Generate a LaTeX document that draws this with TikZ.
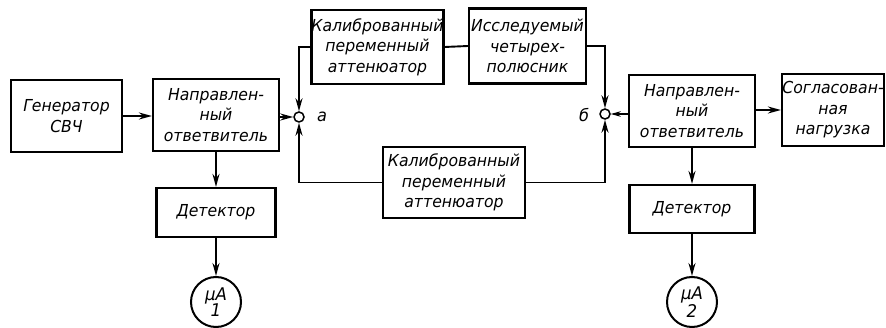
\documentclass[tikz,border=0pt]{standalone}
\usepackage{fontspec}
\setmainfont{DejaVu Sans}[FakeStretch=0.95]
\usetikzlibrary{arrows.meta,calc}
\begin{document}
\begin{tikzpicture}[x=1pt,y=-1pt,
  blk/.style={draw,line width=2.2pt,align=center,inner sep=0pt,
    font=\fontsize{16.5}{20.5}\selectfont\itshape},
  conn/.style={line width=1.9pt},
  arr/.style={conn,-{Stealth[length=13pt,width=7pt]}},
  jn/.style={circle,draw,line width=1.5pt,minimum size=10pt,inner sep=0pt},
  meter/.style={circle,draw,line width=2pt,minimum size=50pt,inner sep=0pt,
    align=center,font=\fontsize{17.5}{16.5}\selectfont\itshape},
  lbl/.style={font=\fontsize{17}{17}\selectfont\itshape,inner sep=0pt}
]
\useasboundingbox (0,0) rectangle (886,328);

\node[blk,minimum width=111pt,minimum height=72pt] (gen) at (66.5,116) {Генератор\\СВЧ};
\node[blk,minimum width=126pt,minimum height=72pt] (cpl1) at (216,115) {Направлен-\\ный\\ответвитель};
\node[blk,minimum width=119pt,minimum height=49pt] (det1) at (216,212.5) {Детектор};
\node[meter] (m1) at (216,302) {μA\\1};

\node[blk,minimum width=131pt,minimum height=74pt] (att1) at (377.5,47) {Калиброванный\\переменный\\аттенюатор};
\node[blk,minimum width=117pt,minimum height=75pt] (quad) at (527.5,46) {Исследуемый\\четырех-\\полюсник};
\node[blk,minimum width=142pt,minimum height=71pt] (att2) at (454,182.5) {Калиброванный\\переменный\\аттенюатор};

\node[jn] (a) at (299,117) {};
\node[jn] (b) at (605,114) {};
\node[lbl] (la) at (322,117) {а};
\node[lbl] (lb) at (584,115) {б};

\node[blk,minimum width=126pt,minimum height=72pt] (cpl2) at (692,111) {Направлен-\\ный\\ответвитель};
\node[blk,minimum width=102pt,minimum height=72pt] (load) at (833,110) {Согласован-\\ная\\нагрузка};
\node[blk,minimum width=125pt,minimum height=48pt] (det2) at (692,209) {Детектор};
\node[meter] (m2) at (692,302) {μA\\2};

% connectors
\draw[arr] (gen.east) -- (gen.east -| cpl1.west);
\draw[arr] (a.west -| cpl1.east) -- (a.west);
\draw[arr] (cpl1.south) -- (det1.north);
\draw[arr] (det1.south) -- (m1.north);

\draw[arr] (att1.west) -| (a.north);
\draw[conn] (att1.east) -- (quad.west);
\draw[arr] (quad.east) -| (b.north);
\draw[arr] (att2.west) -| (a.south);
\draw[arr] (att2.east) -| (b.south);

\draw[conn,line width=1.3pt,-{Stealth[length=10pt,width=5.5pt]}] (b.east -| cpl2.west) -- (b.east);
\draw[arr] (load.west -| cpl2.east) -- (load.west);
\draw[arr] (cpl2.south) -- (det2.north);
\draw[arr] (det2.south) -- (m2.north);
\end{tikzpicture}
\end{document}
